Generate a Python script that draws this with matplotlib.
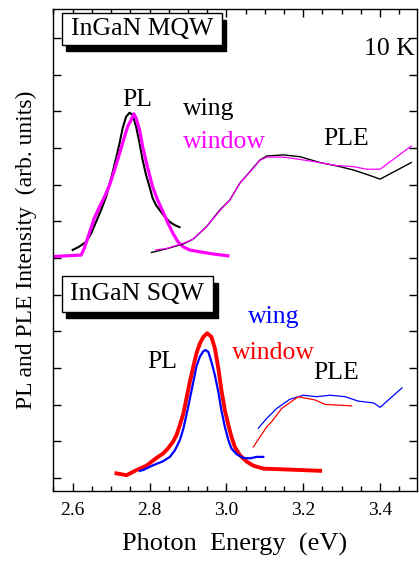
import matplotlib
matplotlib.use("Agg")
import matplotlib.pyplot as plt
from matplotlib.patches import Rectangle
from matplotlib.ticker import MultipleLocator

plt.rcParams['font.family'] = ['Liberation Serif', 'DejaVu Serif']

# ---- MQW (upper) ----
mqw_pl_wing_x = [2.600, 2.617, 2.635, 2.648, 2.661, 2.674, 2.687, 2.700, 2.713, 2.722, 2.730, 2.739, 2.748,
                 2.756, 2.765, 2.774, 2.782, 2.791, 2.800, 2.808, 2.817, 2.826, 2.839, 2.852, 2.865, 2.878]
mqw_pl_wing_y = [6.22, 6.31, 6.44, 6.67, 6.99, 7.31, 7.67, 8.17, 8.72, 9.13, 9.54, 9.85, 9.96,
                 9.90, 9.58, 9.13, 8.67, 8.26, 7.94, 7.63, 7.44, 7.31, 7.13, 6.99, 6.90, 6.84]

mqw_pl_win_x = [2.548, 2.622, 2.630, 2.643, 2.656, 2.670, 2.683, 2.696, 2.709, 2.722, 2.735, 2.743, 2.752,
                2.759, 2.765, 2.774, 2.782, 2.791, 2.800, 2.808, 2.821, 2.835, 2.848, 2.861, 2.874, 2.887,
                2.904, 2.930, 2.965, 3.004]
mqw_pl_win_y = [6.04, 6.08, 6.26, 6.67, 7.08, 7.40, 7.67, 7.99, 8.40, 8.85, 9.31, 9.58, 9.76,
                9.93, 9.81, 9.49, 9.04, 8.63, 8.26, 7.94, 7.58, 7.26, 6.95, 6.67, 6.44, 6.31,
                6.22, 6.17, 6.11, 6.06]

mqw_ple_wing_x = [2.805, 2.844, 2.887, 2.913, 2.948, 2.983, 3.009, 3.035, 3.061, 3.087, 3.105, 3.148, 3.192, 3.244, 3.287, 3.330, 3.365, 3.400, 3.481]
mqw_ple_wing_y = [6.15, 6.25, 6.38, 6.51, 6.85, 7.31, 7.58, 8.04, 8.35, 8.67, 8.78, 8.81, 8.76, 8.60, 8.51, 8.40, 8.28, 8.15, 8.60]

mqw_ple_win_x = [2.816, 2.844, 2.887, 2.913, 2.948, 2.983, 3.009, 3.035, 3.061, 3.087, 3.105, 3.148, 3.183, 3.226, 3.287, 3.330, 3.365, 3.400, 3.481]
mqw_ple_win_y = [6.22, 6.26, 6.40, 6.51, 6.85, 7.29, 7.58, 8.04, 8.34, 8.66, 8.75, 8.75, 8.70, 8.63, 8.52, 8.49, 8.42, 8.42, 9.05]

# ---- SQW (lower) ----
sqw_pl_win_x = [2.714, 2.740, 2.766, 2.792, 2.818, 2.835, 2.848, 2.861, 2.870, 2.879, 2.888, 2.896, 2.905,
                2.914, 2.922, 2.931, 2.940, 2.950, 2.961, 2.970, 2.979, 2.987, 2.996, 3.005, 3.013, 3.022,
                3.035, 3.053, 3.070, 3.096, 3.148, 3.244]
sqw_pl_win_y = [0.13, 0.08, 0.22, 0.34, 0.55, 0.67, 0.81, 0.99, 1.17, 1.45, 1.76, 2.17, 2.63,
                3.04, 3.40, 3.67, 3.85, 3.95, 3.85, 3.54, 2.99, 2.40, 1.85, 1.45, 1.13, 0.85,
                0.63, 0.45, 0.34, 0.26, 0.24, 0.20]

sqw_pl_wing_x = [2.775, 2.783, 2.809, 2.835, 2.853, 2.866, 2.879, 2.888, 2.896, 2.905, 2.914, 2.922, 2.931,
                 2.940, 2.946, 2.953, 2.961, 2.970, 2.979, 2.987, 2.996, 3.005, 3.013, 3.027, 3.044, 3.061,
                 3.079, 3.096]
sqw_pl_wing_y = [0.20, 0.22, 0.35, 0.46, 0.58, 0.76, 1.04, 1.35, 1.72, 2.17, 2.63, 3.04, 3.31,
                 3.46, 3.49, 3.44, 3.17, 2.81, 2.35, 1.85, 1.40, 1.04, 0.81, 0.65, 0.55, 0.54,
                 0.58, 0.58]

sqw_ple_wing_x = [3.083, 3.105, 3.131, 3.165, 3.200, 3.235, 3.270, 3.309, 3.343, 3.383, 3.400, 3.457]
sqw_ple_wing_y = [1.36, 1.63, 1.90, 2.15, 2.26, 2.22, 2.26, 2.22, 2.10, 2.05, 1.93, 2.46]

sqw_ple_win_x = [3.070, 3.105, 3.118, 3.144, 3.187, 3.231, 3.257, 3.326]
sqw_ple_win_y = [0.85, 1.40, 1.54, 1.90, 2.22, 2.13, 2.01, 1.97]

xticks = [2.6, 2.8, 3.0, 3.2, 3.4]
xticklabels = ["2.6", "2.8", "3.0", "3.2", "3.4"]

fig = plt.figure(figsize=(4.19, 5.63), dpi=100)
ax = fig.add_axes([0.1258, 0.1279, 0.8694, 0.857])

MAG = '#ff00ff'
ax.plot(mqw_pl_wing_x, mqw_pl_wing_y, color='black', lw=1.5)
ax.plot(mqw_pl_win_x, mqw_pl_win_y, color=MAG, lw=2.3)
ax.plot(mqw_ple_wing_x, mqw_ple_wing_y, color='black', lw=1.0)
ax.plot(mqw_ple_win_x, mqw_ple_win_y, color=MAG, lw=0.9)

ax.plot(sqw_pl_win_x, sqw_pl_win_y, color='#ff0000', lw=2.8)
ax.plot(sqw_pl_wing_x, sqw_pl_wing_y, color='#0000ff', lw=1.6)
ax.plot(sqw_ple_wing_x, sqw_ple_wing_y, color='#0000ff', lw=0.9)
ax.plot(sqw_ple_win_x, sqw_ple_win_y, color='#ff0000', lw=0.9)

ax.set_xlim(2.548, 3.496)
ax.set_ylim(-0.35, 12.80)
ax.set_xticks(xticks)
ax.set_xticklabels(xticklabels)
ax.xaxis.set_minor_locator(MultipleLocator(0.05))
ax.set_yticks(range(0, 13))
ax.set_yticklabels([])
ax.tick_params(axis='both', which='major', direction='in', length=6, width=1.0,
               top=True, right=True, labelsize=14)
ax.tick_params(axis='x', which='major', pad=8)
ax.tick_params(axis='both', which='minor', direction='in', length=3.5, width=1.0,
               top=True, right=True)
for s in ax.spines.values():
    s.set_linewidth(1.0)

ax.set_xlabel("Photon  Energy  (eV)", fontsize=19, labelpad=10)
ax.set_ylabel("PL and PLE Intensity  (arb. units)", fontsize=17, labelpad=8)

FS = 18.5
# boxed titles with drop shadow (axes-fraction layout)
def shadow_box(x0, y0, x1, y1, text):
    dx, dy = 0.013, -0.013
    ax.add_patch(Rectangle((x0 + dx, y0 + dy), x1 - x0, y1 - y0, transform=ax.transAxes,
                           facecolor='black', edgecolor='black', zorder=5, clip_on=False))
    ax.add_patch(Rectangle((x0, y0), x1 - x0, y1 - y0, transform=ax.transAxes,
                           facecolor='white', edgecolor='black', lw=1.0, zorder=6, clip_on=False))
    ax.text((x0 + x1) / 2, (y0 + y1) / 2, text, transform=ax.transAxes, ha='center',
            va='center', fontsize=FS, zorder=7)

shadow_box(0.0247, 0.924, 0.464, 0.990, "InGaN MQW")
shadow_box(0.0247, 0.372, 0.440, 0.445, "InGaN SQW")

ax.text(3.491, 11.54, "10 K", ha='right', va='baseline', fontsize=FS)
ax.text(2.729, 10.14, "PL", ha='left', va='baseline', fontsize=FS)
ax.text(2.887, 9.90, "wing", ha='left', va='baseline', fontsize=FS, color='black')
ax.text(2.887, 8.99, "window", ha='left', va='baseline', fontsize=FS, color=MAG)
ax.text(3.251, 9.08, "PLE", ha='left', va='baseline', fontsize=FS)

ax.text(2.793, 2.99, "PL", ha='left', va='baseline', fontsize=FS)
ax.text(3.056, 4.24, "wing", ha='left', va='baseline', fontsize=FS, color='#0000ff')
ax.text(3.014, 3.24, "window", ha='left', va='baseline', fontsize=FS, color='#ff0000')
ax.text(3.225, 2.69, "PLE", ha='left', va='baseline', fontsize=FS)

fig.savefig("out.png", dpi=100)
